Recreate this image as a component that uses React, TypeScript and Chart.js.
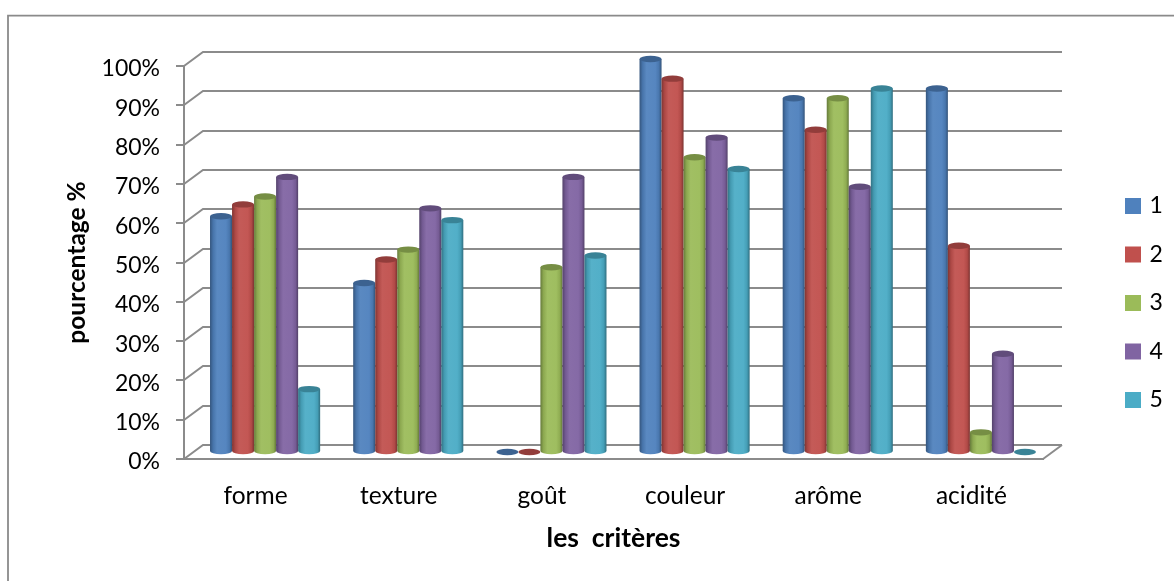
import React, { useEffect, useRef } from "react";
import { Chart, registerables } from "chart.js";

Chart.register(...registerables);

// Survey scores per criterion, one array per respondent group.
const categories = ["forme", "texture", "goût", "couleur", "arôme", "acidité"];
const group1 = [60, 43, 0, 100, 90, 92.5];
const group2 = [63, 49, 0, 95, 82, 52.5];
const group3 = [65, 51.5, 47, 75, 90, 5];
const group4 = [70, 62, 70, 80, 67.5, 25];
const group5 = [16, 59, 50, 72, 92.5, 0];
const seriesNames = ["1", "2", "3", "4", "5"];
const seriesColors = ["#4F81BD", "#C0504D", "#9BBB59", "#8064A2", "#4BACC6"];
const seriesValues = [group1, group2, group3, group4, group5];

const FONT = "Lato, Carlito, sans-serif";
const LINE = "#8b8b8b";
const DEPTH_X = 19;
const DEPTH_Y = 14;

function shade(hex: string, f: number) {
  const n = parseInt(hex.slice(1), 16);
  const ch = (v: number) =>
    Math.round(f < 1 ? v * f : v + (255 - v) * (f - 1));
  return `rgb(${ch((n >> 16) & 255)},${ch((n >> 8) & 255)},${ch(n & 255)})`;
}

// Back wall, side wall and floor of the pseudo-3D box, built from the axis scales.
const wallsPlugin = {
  id: "walls",
  beforeDatasetsDraw(chart: any) {
    const { ctx, scales } = chart;
    const left = scales.x.left;
    const right = scales.x.right;
    ctx.save();
    ctx.strokeStyle = LINE;
    ctx.lineWidth = 2;
    for (const v of scales.y.ticks.map((t: any) => t.value)) {
      const y = Math.round(scales.y.getPixelForValue(v));
      ctx.beginPath();
      ctx.moveTo(left, y);
      ctx.lineTo(left + DEPTH_X, y - DEPTH_Y);
      ctx.lineTo(right + DEPTH_X, y - DEPTH_Y);
      ctx.stroke();
    }
    const y0 = Math.round(scales.y.getPixelForValue(0));
    ctx.beginPath();
    ctx.moveTo(right, y0);
    ctx.lineTo(right + DEPTH_X, y0 - DEPTH_Y);
    ctx.stroke();
    ctx.restore();
  },
};

// Draws each bar element as a shaded cylinder standing mid-way into the box.
const cylinderPlugin = {
  id: "cylinders",
  beforeDatasetDraw() {
    return false;
  },
  afterDatasetsDraw(chart: any) {
    const { ctx } = chart;
    const ox = DEPTH_X / 2;
    const oy = -DEPTH_Y / 2;
    const ry = 3.2;
    chart.data.datasets.forEach((ds: any, i: number) => {
      const color = seriesColors[i];
      chart.getDatasetMeta(i).data.forEach((bar: any, j: number) => {
        const value = ds.data[j];
        const cx = bar.x + ox;
        const rx = bar.width / 2;
        const top = bar.y + oy;
        const base = bar.base + oy;
        ctx.save();
        if (value > 0) {
          const g = ctx.createLinearGradient(cx - rx, 0, cx + rx, 0);
          g.addColorStop(0, shade(color, 0.66));
          g.addColorStop(0.14, shade(color, 0.9));
          g.addColorStop(0.32, shade(color, 1.06));
          g.addColorStop(0.72, shade(color, 1.04));
          g.addColorStop(0.88, shade(color, 0.92));
          g.addColorStop(1, shade(color, 0.64));
          ctx.fillStyle = g;
          ctx.beginPath();
          ctx.moveTo(cx - rx, top);
          ctx.lineTo(cx - rx, base);
          ctx.ellipse(cx, base, rx, ry, 0, Math.PI, 0, true);
          ctx.lineTo(cx + rx, top);
          ctx.closePath();
          ctx.fill();
        }
        ctx.fillStyle = shade(color, 0.76);
        ctx.beginPath();
        ctx.ellipse(cx, top, rx, ry, 0, 0, Math.PI * 2);
        ctx.fill();
        ctx.restore();
      });
    });
  },
};

// Outer chart frame, open on the right and bottom edges of the page.
const framePlugin = {
  id: "frame",
  beforeDraw(chart: any) {
    const { ctx, width, height } = chart;
    ctx.save();
    ctx.fillStyle = "#ffffff";
    ctx.fillRect(0, 0, width, height);
    ctx.strokeStyle = "#8a8a8a";
    ctx.lineWidth = 1.8;
    ctx.beginPath();
    ctx.moveTo(8, height);
    ctx.lineTo(8, 15.7);
    ctx.lineTo(width, 15.7);
    ctx.stroke();
    ctx.restore();
  },
};

// Holds the legend in a fixed column to the right of the plot.
const legendPlacement = {
  id: "legendPlacement",
  beforeLayout(chart: any) {
    const legend = chart.legend;
    if (legend && !legend.__fixed) {
      legend.__fixed = true;
      const fit = legend.fit;
      legend.fit = function () {
        fit.call(this);
        this.width = 131;
      };
    }
  },
  afterLayout(chart: any) {
    const legend = chart.legend;
    const w = legend.right - legend.left;
    const h = legend.bottom - legend.top;
    legend.left = 1128 - 25.5;
    legend.right = legend.left + w;
    legend.top = 169;
    legend.bottom = legend.top + h;
  },
};

export default function App() {
  const ref = useRef<HTMLCanvasElement>(null);
  useEffect(() => {
    document.body.style.margin = "0";
    const chart = new Chart(ref.current!, {
      type: "bar",
      data: {
        labels: categories,
        datasets: seriesValues.map((data, i) => ({
          label: seriesNames[i],
          data,
          backgroundColor: seriesColors[i],
          borderColor: seriesColors[i],
          borderWidth: 6,
          categoryPercentage: 110 / 143,
          barPercentage: 1,
        })),
      },
      plugins: [framePlugin, wallsPlugin, cylinderPlugin, legendPlacement],
      options: {
        responsive: false,
        animation: false,
        layout: { padding: { top: 66, right: 0, bottom: 0, left: 0 } },
        plugins: {
          tooltip: { enabled: false },
          legend: {
            position: "right",
            align: "start",
            labels: {
              boxWidth: 10,
              boxHeight: 10,
              padding: 25.5,
              color: "#000000",
              font: { family: FONT, size: 23 },
            },
          },
        },
        scales: {
          x: {
            afterFit(s: any) {
              s.height = 122;
              s.paddingLeft = 0;
              s.paddingRight = 0;
            },
            grid: { display: false },
            border: { color: LINE, width: 2 },
            ticks: {
              color: "#000000",
              padding: 14,
              maxRotation: 0,
              font: { family: FONT, size: 24.5 },
            },
            title: {
              display: true,
              text: "les  critères",
              color: "#000000",
              font: { family: FONT, size: 26.5, weight: "bold" },
              padding: { top: 0, bottom: 27 },
            },
          },
          y: {
            min: 0,
            max: 100,
            afterFit(s: any) {
              s.width = 184;
              s.paddingTop = 0;
              s.paddingBottom = 0;
            },
            grid: {
              drawOnChartArea: false,
              drawTicks: true,
              tickLength: 8,
              color: LINE,
              lineWidth: 2,
            },
            border: { color: LINE, width: 2 },
            ticks: {
              stepSize: 10,
              color: "#000000",
              padding: 16,
              labelOffset: 3,
              callback: (v: any) => `${v}%`,
              font: { family: FONT, size: 23 },
            },
            title: {
              display: true,
              text: "pourcentage %",
              color: "#000000",
              font: { family: FONT, size: 24.5, weight: "bold" },
              padding: { top: 62, bottom: 0 },
            },
          },
        },
      } as any,
    });
    return () => chart.destroy();
  }, []);
  return (
    <canvas
      ref={ref}
      width={1174}
      height={581}
      style={{ display: "block", width: 1174, height: 581 }}
    />
  );
}
